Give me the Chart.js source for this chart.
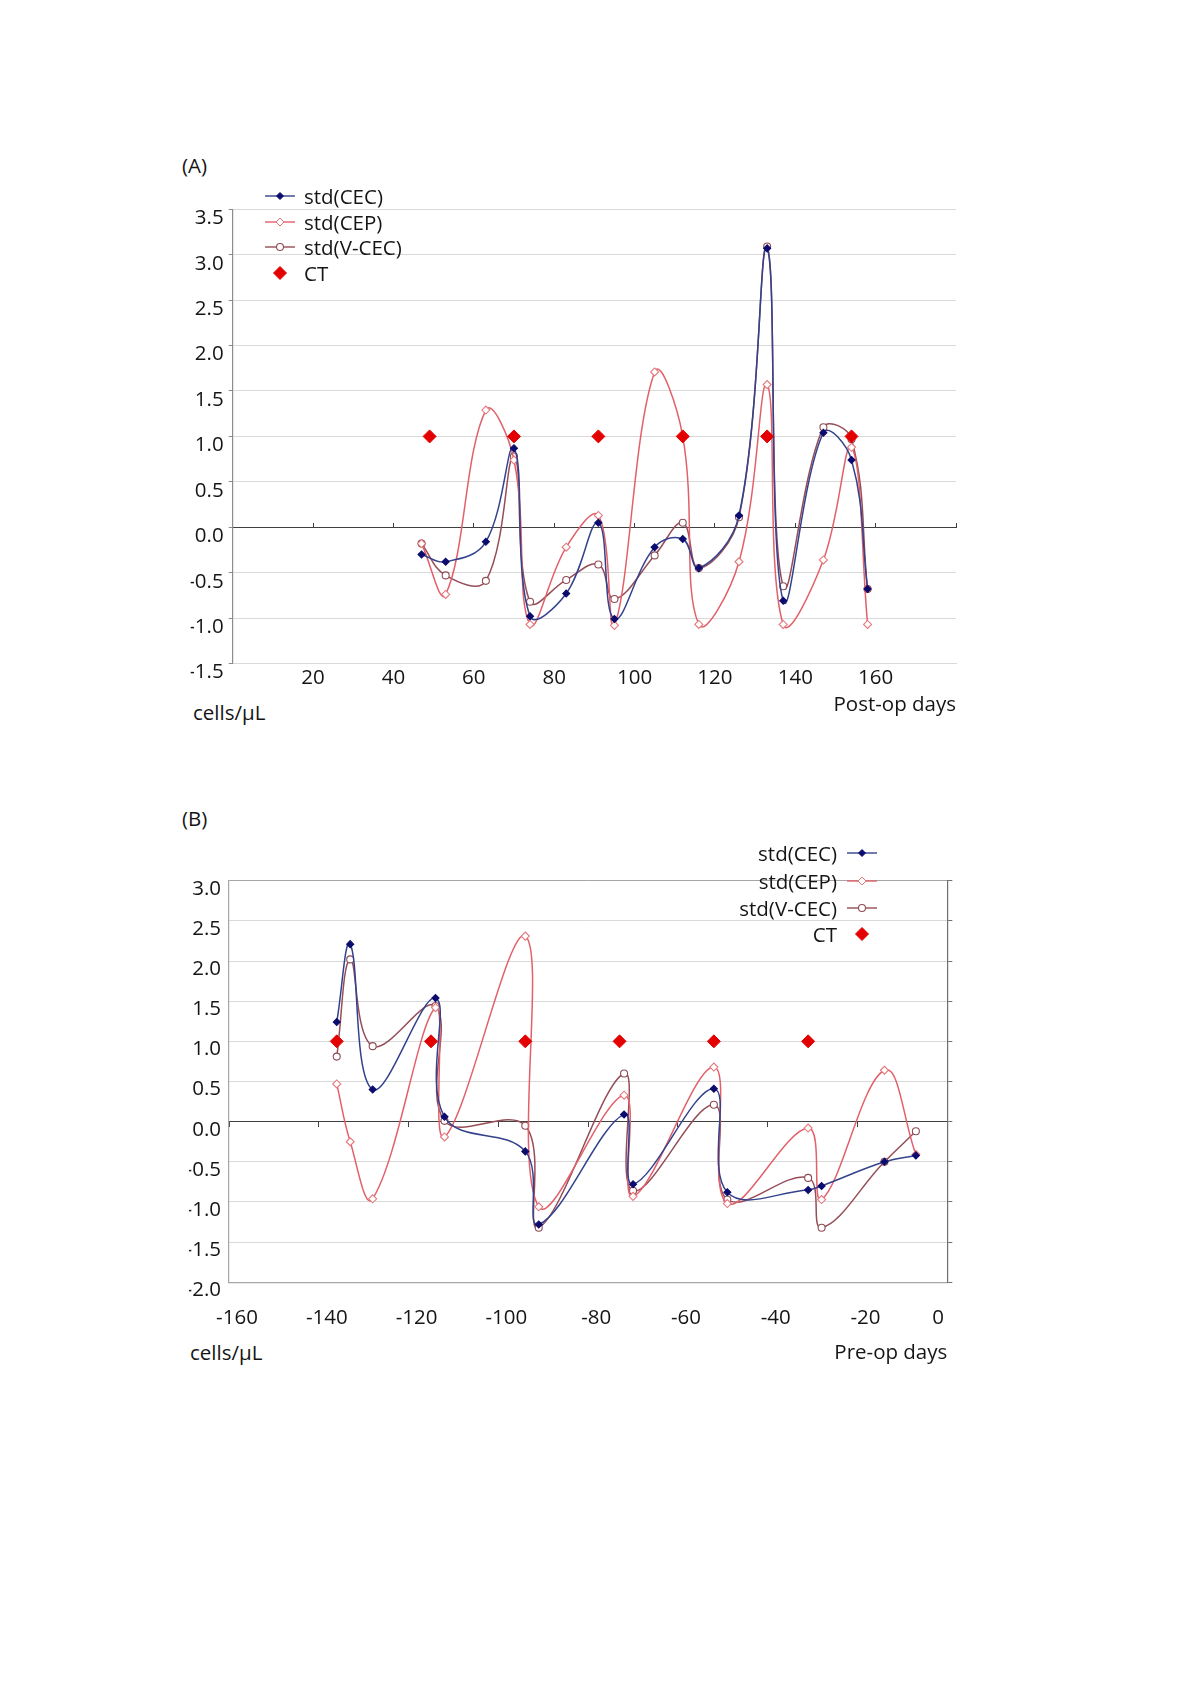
<!DOCTYPE html>
<html>
<head>
<meta charset="utf-8">
<script src="https://cdn.jsdelivr.net/npm/chart.js@4.4.1/dist/chart.umd.min.js"></script>
<style>
  html, body { margin: 0; padding: 0; background: #fff; }
  body { width: 1200px; height: 1697px; position: relative; overflow: hidden;
         font-family: 'Open Sans', sans-serif; color: #151515; }
  .txt { position: absolute; font-size: 20.5px; line-height: 24px; white-space: nowrap; }
  canvas { position: absolute; }
  .leg { position: absolute; display: flex; align-items: center; height: 24px;
         font-size: 20.5px; line-height: 24px; white-space: nowrap; }
  .leg svg { display: block; flex: none; }
</style>
</head>
<body>

<div class="txt" style="left:182px; top:153px;">(A)</div>
<div class="txt" style="left:182px; top:806px;">(B)</div>
<div class="txt" style="left:193px; top:700px;">cells/μL</div>
<div class="txt" style="left:190px; top:1340px;">cells/μL</div>

<canvas id="chartA" width="830" height="560" style="left:150px; top:180px;"></canvas>
<canvas id="chartB" width="880" height="540" style="left:150px; top:840px;"></canvas>

<div id="legendA"></div>
<div id="legendB"></div>

<script>
/* ---- data : panel A (post-op) ---- */
const daysA  = [47, 53, 63, 70, 74, 83, 91, 95, 105, 112, 116, 126, 133, 137, 147, 154, 158];
const cecA   = [-0.30, -0.38, -0.16, 0.87, -0.98, -0.73, 0.05, -1.01, -0.22, -0.13, -0.45, 0.13, 3.07, -0.81, 1.04, 0.74, -0.68];
const cepA   = [-0.18, -0.74, 1.29, 0.74, -1.07, -0.22, 0.13, -1.08, 1.71, 1.00, -1.07, -0.38, 1.57, -1.07, -0.36, 0.88, -1.07];
const vcecA  = [-0.18, -0.53, -0.59, 0.78, -0.82, -0.58, -0.41, -0.79, -0.31, 0.05, -0.45, 0.11, 3.09, -0.65, 1.10, 0.97, -0.68];
const ctDaysA = [49, 70, 91, 112, 133, 154];
const ctA     = [1, 1, 1, 1, 1, 1];

/* ---- data : panel B (pre-op) ---- */
const daysB  = [-136, -133, -128, -114, -112, -94, -91, -72, -70, -52, -49, -31, -28, -14, -7];
const cecB   = [1.24, 2.21, 0.40, 1.54, 0.06, -0.37, -1.28, 0.09, -0.78, 0.41, -0.88, -0.85, -0.80, -0.50, -0.42];
const cepB   = [0.47, -0.25, -0.96, 1.42, -0.19, 2.31, -1.06, 0.33, -0.93, 0.68, -1.02, -0.08, -0.97, 0.64, -0.41];
const vcecB  = [0.81, 2.02, 0.94, 1.44, 0.01, -0.05, -1.32, 0.60, -0.86, 0.21, -0.97, -0.70, -1.32, -0.50, -0.12];
const ctDaysB = [-136, -115, -94, -73, -52, -31];
const ctB     = [1, 1, 1, 1, 1, 1];

const seriesNames = ['std(CEC)', 'std(CEP)', 'std(V-CEC)', 'CT'];

/* ---- styles ---- */
const FONT = { family: 'Open Sans', size: 20.5 };
const TEXT = '#151515';
const GRID = '#d9d9d9';
const ZERO = '#404040';

const STYLE = [
  { line: '#34428c', fill: '#0c0c6e', stroke: '#0c0c6e', shape: 'rectRot', r: 3.5 },
  { line: '#e2606a', fill: '#ffffff', stroke: '#e4787c', shape: 'rectRot', r: 4 },
  { line: '#954d58', fill: '#ffffff', stroke: '#8e4d55', shape: 'circle',  r: 3.5 },
  { line: null,      fill: '#e30000', stroke: '#e30000', shape: 'rectRot', r: 6.5 },
];

const pts = (xs, ys) => xs.map((x, i) => ({ x, y: ys[i] }));

function makeDatasets(days, cec, cep, vcec, ctDays, ct) {
  const series = [cec, cep, vcec];
  const ds = series.map((vals, i) => ({
    label: seriesNames[i],
    data: pts(days, vals),
    xAxisID: 'x', yAxisID: 'y',
    borderColor: STYLE[i].line,
    borderWidth: 1.5,
    tension: 0.4,
    pointStyle: STYLE[i].shape,
    pointRadius: STYLE[i].r,
    pointBackgroundColor: STYLE[i].fill,
    pointBorderColor: STYLE[i].stroke,
    pointBorderWidth: 1.1,
    order: i + 1,
  }));
  ds.push({
    label: seriesNames[3],
    data: pts(ctDays, ct),
    xAxisID: 'x', yAxisID: 'y',
    showLine: false,
    pointStyle: STYLE[3].shape,
    pointRadius: STYLE[3].r,
    pointBackgroundColor: STYLE[3].fill,
    pointBorderColor: STYLE[3].stroke,
    pointBorderWidth: 1,
    order: 0,
  });
  return ds;
}

const baseOpts = {
  responsive: false,
  animation: false,
  events: [],
  plugins: { legend: { display: false }, tooltip: { enabled: false } },
};

/* ---- panel A ---- */
new Chart(document.getElementById('chartA'), {
  type: 'line',
  data: { datasets: makeDatasets(daysA, cecA, cepA, vcecA, ctDaysA, ctA) },
  options: {
    ...baseOpts,
    layout: { padding: { left: 40.7, right: 24, top: 29.3, bottom: 22.5 } },
    scales: {
      x: {
        type: 'linear', min: 0, max: 180,
        grid: { display: false, drawTicks: false },
        border: { color: GRID, width: 1 },
        ticks: { stepSize: 20, padding: 2, color: TEXT, font: FONT,
                 callback: v => (v === 0 || v === 180) ? '' : v },
        title: { display: true, text: 'Post-op days', align: 'end', color: TEXT, font: FONT,
                 padding: { top: 0, bottom: 0 } },
        afterFit: s => { s.height = 54; },
      },
      x2: {
        axis: 'x', type: 'linear', min: 0, max: 180,
        position: { y: 0 },
        grid: { drawOnChartArea: false, tickLength: -5, color: ZERO },
        border: { color: ZERO, width: 1 },
        ticks: { display: false, stepSize: 20 },
      },
      y: {
        min: -1.5, max: 3.5,
        grid: { color: GRID, tickLength: 4, tickColor: '#8c8c8c' },
        border: { color: '#8c8c8c', width: 1.2 },
        ticks: { stepSize: 0.5, padding: 5, labelOffset: 9, color: TEXT, font: FONT,
                 callback: v => v.toFixed(1) },
        afterFit: s => { s.width = 42; },
      },
    },
  },
});

/* ---- panel B ---- */
new Chart(document.getElementById('chartB'), {
  type: 'line',
  data: { datasets: makeDatasets(daysB, cecB, cepB, vcecB, ctDaysB, ctB) },
  options: {
    ...baseOpts,
    layout: { padding: { left: 39, right: 76.7, top: 40.7, bottom: 14.7 } },
    scales: {
      x: {
        type: 'linear', min: -160, max: 0,
        grid: { display: false, drawTicks: false },
        border: { color: '#a6a6a6', width: 1.2 },
        ticks: { stepSize: 20, padding: 24, labelOffset: 8, color: TEXT, font: FONT,
                 // last label sits left of its tick in the original
                 callback: v => v === 0 ? '0\u2003\u2002\u2009' : v },
        title: { display: true, text: 'Pre-op days', align: 'end', color: TEXT, font: FONT,
                 padding: { top: 0, bottom: 0 } },
        afterFit: s => { s.height = 83; },
      },
      x2: {
        axis: 'x', type: 'linear', min: -160, max: 0,
        position: { y: 0 },
        grid: { drawOnChartArea: false, tickLength: 5, color: ZERO },
        border: { color: ZERO, width: 1 },
        ticks: { display: false, stepSize: 20 },
      },
      y: {
        min: -2, max: 3,
        grid: { drawTicks: false, color: c => (c.tick && c.tick.value === 3) ? '#a6a6a6' : GRID },
        border: { color: '#a6a6a6', width: 1.2 },
        ticks: { stepSize: 0.5, padding: 8, labelOffset: 8, color: TEXT, font: FONT,
                 callback: v => v.toFixed(1) },
        afterFit: s => { s.width = 40; },
      },
      y2: {
        axis: 'y', position: 'right', min: -2, max: 3,
        grid: { drawOnChartArea: false, tickLength: 5, color: '#6e6e6e' },
        border: { color: '#6e6e6e', width: 1.2 },
        ticks: { display: false, stepSize: 0.5 },
        afterFit: s => { s.width = 6; },
      },
    },
  },
});

/* ---- legends (html) ---- */
function symbolSvg(i) {
  const s = STYLE[i];
  const cx = 15, cy = 12;
  let mark;
  if (s.shape === 'circle') {
    mark = `<circle cx="${cx}" cy="${cy}" r="${s.r}" fill="${s.fill}" stroke="${s.stroke}" stroke-width="1.1"/>`;
  } else {
    const r = s.r;
    mark = `<polygon points="${cx},${cy - r} ${cx + r},${cy} ${cx},${cy + r} ${cx - r},${cy}" fill="${s.fill}" stroke="${s.stroke}" stroke-width="1"/>`;
  }
  const line = s.line ? `<line x1="0" y1="${cy}" x2="30" y2="${cy}" stroke="${s.line}" stroke-width="1.4"/>` : '';
  return `<svg width="30" height="24" viewBox="0 0 30 24">${line}${mark}</svg>`;
}

const legA = document.getElementById('legendA');
const rowsA = [183.5, 209.5, 235, 261];
seriesNames.forEach((name, i) => {
  const d = document.createElement('div');
  d.className = 'leg';
  d.style.left = '265px';
  d.style.top = rowsA[i] + 'px';
  d.innerHTML = symbolSvg(i) + `<span style="margin-left:9px">${name}</span>`;
  legA.appendChild(d);
});

const legB = document.getElementById('legendB');
const rowsB = [841, 869, 895.5, 922];
seriesNames.forEach((name, i) => {
  const d = document.createElement('div');
  d.className = 'leg';
  d.style.right = '323px';
  d.style.top = rowsB[i] + 'px';
  d.innerHTML = `<span style="margin-right:10px">${name}</span>` + symbolSvg(i);
  legB.appendChild(d);
});
</script>
</body>
</html>
